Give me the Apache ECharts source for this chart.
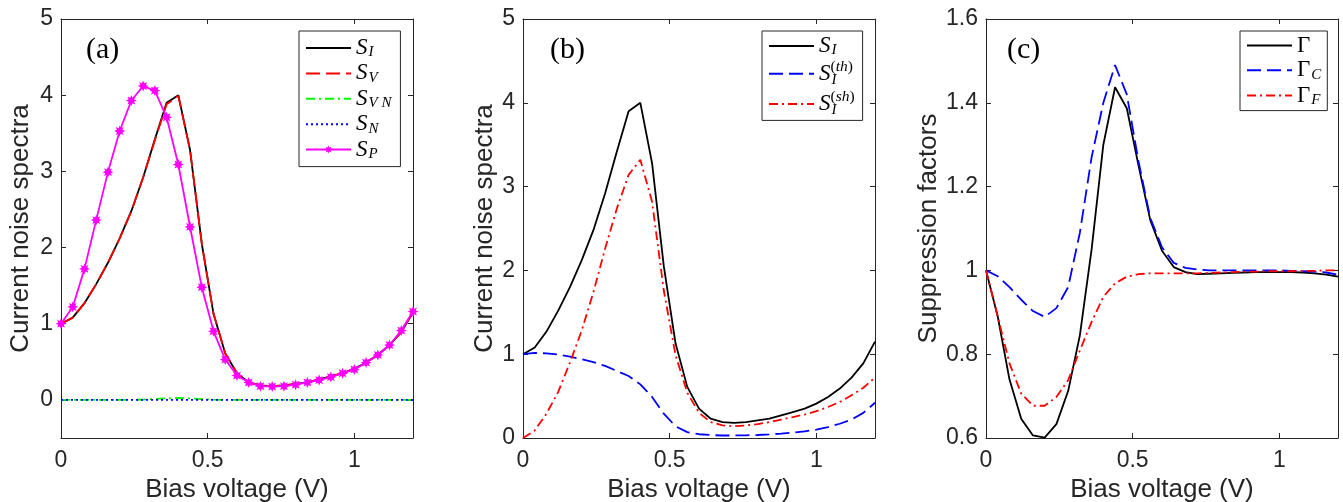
<!DOCTYPE html>
<html>
<head>
<meta charset="utf-8">
<title>Current noise spectra and suppression factors</title>
<script src="https://cdn.jsdelivr.net/npm/echarts@6/dist/echarts.min.js"></script>
<style>
  html, body { margin: 0; padding: 0; background: #ffffff; }
  #chart { width: 1343px; height: 502px; }
</style>
</head>
<body>
<div id="chart"></div>
<script>
// ---- data (bias voltage in V) ----
const biasVoltage = [0, 0.04, 0.08, 0.12, 0.16, 0.2, 0.24, 0.28, 0.32, 0.36, 0.4, 0.44, 0.48, 0.52, 0.56, 0.6,
  0.64, 0.68, 0.72, 0.76, 0.8, 0.84, 0.88, 0.92, 0.96, 1.0, 1.04, 1.08, 1.12, 1.16, 1.2];

// panel (a)
const sI = [1.0, 1.08, 1.27, 1.52, 1.80, 2.12, 2.48, 2.92, 3.42, 3.90, 4.00, 3.28, 2.05, 1.13, 0.61, 0.35,
  0.23, 0.19, 0.18, 0.19, 0.21, 0.23, 0.27, 0.31, 0.35, 0.41, 0.49, 0.59, 0.72, 0.89, 1.15];
const sV = [1.0, 1.08, 1.27, 1.52, 1.80, 2.12, 2.48, 2.92, 3.41, 3.88, 3.99, 3.28, 2.05, 1.13, 0.61, 0.35,
  0.23, 0.19, 0.18, 0.19, 0.21, 0.23, 0.27, 0.31, 0.35, 0.41, 0.49, 0.59, 0.72, 0.89, 1.15];
const sVN = [0, 0, 0, 0, 0, 0, 0, 0.005, 0.012, 0.02, 0.025, 0.02, 0.01, 0.004, 0, 0,
  0, 0, 0, 0, 0, 0, 0, 0, 0, 0, 0, 0, 0, 0, 0];
const sN = [0, 0, 0, 0, 0, 0, 0, 0, 0, 0, 0, 0, 0, 0, 0, 0,
  0, 0, 0, 0, 0, 0, 0, 0, 0, 0, 0, 0, 0, 0, 0];
const sP = [1.0, 1.22, 1.72, 2.36, 2.99, 3.53, 3.93, 4.12, 4.06, 3.71, 3.09, 2.27, 1.48, 0.90, 0.53, 0.32,
  0.23, 0.18, 0.175, 0.18, 0.20, 0.23, 0.26, 0.30, 0.35, 0.40, 0.49, 0.59, 0.72, 0.91, 1.16];

// panel (b)
const sIth = [1.0, 1.015, 1.01, 0.995, 0.97, 0.94, 0.905, 0.86, 0.80, 0.74, 0.64, 0.49, 0.29, 0.14, 0.07, 0.045,
  0.035, 0.03, 0.03, 0.032, 0.036, 0.043, 0.052, 0.064, 0.08, 0.10, 0.13, 0.17, 0.22, 0.30, 0.42];
const sIsh = [0, 0.09, 0.29, 0.55, 0.90, 1.28, 1.74, 2.26, 2.74, 3.14, 3.32, 2.82, 1.76, 0.99, 0.54, 0.30,
  0.19, 0.15, 0.14, 0.15, 0.165, 0.19, 0.22, 0.25, 0.28, 0.32, 0.37, 0.43, 0.51, 0.60, 0.72];

// panel (c)
const gammaTotal = [1.0, 0.89, 0.74, 0.646, 0.606, 0.601, 0.633, 0.712, 0.845, 1.05, 1.30, 1.437, 1.387, 1.25, 1.12, 1.047,
  1.008, 0.996, 0.991, 0.992, 0.993, 0.994, 0.995, 0.996, 0.996, 0.996, 0.996, 0.995, 0.993, 0.99, 0.985];
const gammaC = [1.0, 0.986, 0.96, 0.93, 0.903, 0.889, 0.91, 0.96, 1.09, 1.27, 1.40, 1.49, 1.42, 1.26, 1.125, 1.055,
  1.018, 1.006, 1.002, 1.0, 1.0, 1.0, 1.0, 1.0, 1.0, 1.0, 0.999, 0.998, 0.997, 0.995, 0.99];
const gammaF = [1.0, 0.89, 0.778, 0.706, 0.677, 0.677, 0.698, 0.738, 0.809, 0.877, 0.937, 0.969, 0.985, 0.991, 0.993, 0.993,
  0.993, 0.993, 0.993, 0.994, 0.995, 0.996, 0.997, 0.997, 0.998, 0.998, 0.998, 0.999, 0.999, 1.0, 1.0];

// tick values
const xTicks = [0, 0.5, 1];
const yTicksAB = [0, 1, 2, 3, 4, 5];
const yTicksC = [0.6, 0.8, 1, 1.2, 1.4, 1.6];

// ---- styling helpers ----
const INK = '#262626';
const SANS = '"Liberation Sans", Arial, Helvetica, sans-serif';
const SERIF = '"Liberation Serif", "Times New Roman", serif';
const LINE_W = 1.8;
const TICK_FONT = 23;
const NAME_FONT = 26;

const pair = (ys) => biasVoltage.map((x, i) => [x, ys[i]]);

const grids = [
  { left: 61, top: 19, width: 352, height: 419, outerBoundsMode: 'none' },
  { left: 523, top: 19, width: 352, height: 419, outerBoundsMode: 'none' },
  { left: 986, top: 19, width: 352, height: 419, outerBoundsMode: 'none' }
];

function frameLine() {
  return { show: true, onZero: false, lineStyle: { color: INK, width: 1 } };
}

function xAxes(gridIndex) {
  return [
    {
      type: 'value', gridIndex, position: 'bottom', min: 0, max: 1.2,
      name: 'Bias voltage (V)', nameLocation: 'middle', nameGap: 36,
      nameTextStyle: { fontSize: NAME_FONT, fontFamily: SANS, color: INK },
      axisLine: frameLine(),
      axisTick: { show: true, inside: true, length: 5, customValues: xTicks, lineStyle: { color: INK } },
      axisLabel: { show: true, customValues: xTicks, margin: 11, fontSize: TICK_FONT, fontFamily: SANS, color: INK },
      splitLine: { show: false }
    },
    {
      type: 'value', gridIndex, position: 'top', min: 0, max: 1.2,
      axisLine: frameLine(),
      axisTick: { show: true, inside: true, length: 5, customValues: xTicks, lineStyle: { color: INK } },
      axisLabel: { show: false },
      splitLine: { show: false }
    }
  ];
}

function yAxes(gridIndex, min, max, ticks, name, nameGap) {
  return [
    {
      type: 'value', gridIndex, position: 'left', min, max,
      name, nameLocation: 'middle', nameGap,
      nameTextStyle: { fontSize: NAME_FONT, fontFamily: SANS, color: INK },
      axisLine: frameLine(),
      axisTick: { show: true, inside: true, length: 5, customValues: ticks, lineStyle: { color: INK } },
      axisLabel: { show: true, customValues: ticks, margin: 8, fontSize: TICK_FONT, fontFamily: SANS, color: INK },
      splitLine: { show: false }
    },
    {
      type: 'value', gridIndex, position: 'right', min, max,
      axisLine: frameLine(),
      axisTick: { show: true, inside: true, length: 5, customValues: ticks, lineStyle: { color: INK } },
      axisLabel: { show: false },
      splitLine: { show: false }
    }
  ];
}

function lineSeries(name, axisIndex, ys, color, type, extra) {
  return Object.assign({
    name, type: 'line',
    xAxisIndex: axisIndex, yAxisIndex: axisIndex,
    data: pair(ys),
    symbol: 'none',
    lineStyle: { color, width: LINE_W, type },
    itemStyle: { color },
    animation: false,
    silent: true
  }, extra || {});
}

// eight-pointed asterisk marker
const starPath = (() => {
  const pts = [];
  for (let k = 0; k < 16; k++) {
    const r = k % 2 === 0 ? 10 : 5.4;
    const a = Math.PI * k / 8 - Math.PI / 2;
    pts.push((10 + r * Math.cos(a)).toFixed(2) + ',' + (10 + r * Math.sin(a)).toFixed(2));
  }
  return 'path://M' + pts.join('L') + 'Z';
})();

const DASH = [14, 6];
const DASHDOT = [9, 4, 2, 4];
const DOT = [2, 3];

const series = [
  lineSeries('a_SI', 0, sI, '#000000', 'solid'),
  lineSeries('a_SV', 0, sV, '#ff0000', DASH),
  lineSeries('a_SVN', 0, sVN, '#00ff00', DASHDOT),
  lineSeries('a_SN', 0, sN, '#0000ff', DOT),
  lineSeries('a_SP', 0, sP, '#ff00ff', 'solid', {
    symbol: starPath, symbolSize: 11, showSymbol: true
  }),
  lineSeries('b_SI', 2, sI, '#000000', 'solid'),
  lineSeries('b_Sth', 2, sIth, '#0000ff', DASH),
  lineSeries('b_Ssh', 2, sIsh, '#ff0000', DASHDOT),
  lineSeries('c_G', 4, gammaTotal, '#000000', 'solid'),
  lineSeries('c_GC', 4, gammaC, '#0000ff', DASH),
  lineSeries('c_GF', 4, gammaF, '#ff0000', DASHDOT)
];

// legend text (math-style italics with sub/superscripts)
const baseRich = {
  s: { fontFamily: SERIF, fontStyle: 'italic', fontSize: 23, lineHeight: 24, color: '#000' },
  g: { fontFamily: SERIF, fontSize: 23, lineHeight: 24, color: '#000' },
  sub: { fontFamily: SERIF, fontStyle: 'italic', fontSize: 15, lineHeight: 16, padding: [9, 0, 0, 1], color: '#000' },
  subL: { fontFamily: SERIF, fontStyle: 'italic', fontSize: 15, lineHeight: 16, padding: [12, 0, 0, 1], color: '#000' },
  supL: { fontFamily: SERIF, fontSize: 15.5, lineHeight: 15, padding: [0, 0, 13, -6], color: '#000' },
  supI: { fontFamily: SERIF, fontStyle: 'italic', fontSize: 15.5, lineHeight: 15, padding: [0, 0, 13, 0], color: '#000' },
  supP: { fontFamily: SERIF, fontSize: 15.5, lineHeight: 15, padding: [0, 0, 13, 0], color: '#000' }
};

const legendText = {
  a_SI: '{s|S}{sub|I}',
  a_SV: '{s|S}{sub|V}',
  a_SVN: '{s|S}{sub|V N}',
  a_SN: '{s|S}{sub|N}',
  a_SP: '{s|S}{sub|P}',
  b_SI: '{s|S}{sub|I}',
  b_Sth: '{s|S}{subL|I}{supL|(}{supI|th}{supP|)}',
  b_Ssh: '{s|S}{subL|I}{supL|(}{supI|sh}{supP|)}',
  c_G: '{g|\u0393}',
  c_GC: '{g|\u0393}{sub|C}',
  c_GF: '{g|\u0393}{sub|F}'
};

function legendBox(left, top, padding, gap, items) {
  return {
    orient: 'vertical', left, top, padding, itemGap: gap,
    itemWidth: 45, itemHeight: 10,
    borderColor: INK, borderWidth: 1, borderRadius: 0, backgroundColor: '#ffffff',
    selectedMode: false,
    data: items.map(n => ({ name: n, itemStyle: { opacity: n === 'a_SP' ? 1 : 0 } })),
    formatter: (n) => legendText[n],
    textStyle: { color: '#000', rich: baseRich }
  };
}

const panelLabel = (text, left) => ({
  type: 'text', left, top: 35, silent: true,
  style: { text, fontSize: 30, fontFamily: SERIF, fill: '#000' }
});

const option = {
  backgroundColor: '#ffffff',
  animation: false,
  grid: grids,
  xAxis: [].concat(xAxes(0), xAxes(1), xAxes(2)),
  yAxis: [].concat(
    yAxes(0, -0.5, 5, yTicksAB, 'Current noise spectra', 27),
    yAxes(1, 0, 5, yTicksAB, 'Current noise spectra', 25),
    yAxes(2, 0.6, 1.6, yTicksC, 'Suppression factors', 44)
  ),
  legend: [
    legendBox(299, 31, [5, 9, 5, 6], 1.4, ['a_SI', 'a_SV', 'a_SVN', 'a_SN', 'a_SP']),
    legendBox(762, 31, [3, 8, 2, 6], 1.2, ['b_SI', 'b_Sth', 'b_Ssh']),
    legendBox(1240, 31, [3, 6, 3, 6], 1.3, ['c_G', 'c_GC', 'c_GF'])
  ],
  graphic: [panelLabel('(a)', 86), panelLabel('(b)', 550), panelLabel('(c)', 1007)],
  series
};

const chart = echarts.init(document.getElementById('chart'), null, { renderer: 'canvas' });
chart.setOption(option);
</script>
</body>
</html>
